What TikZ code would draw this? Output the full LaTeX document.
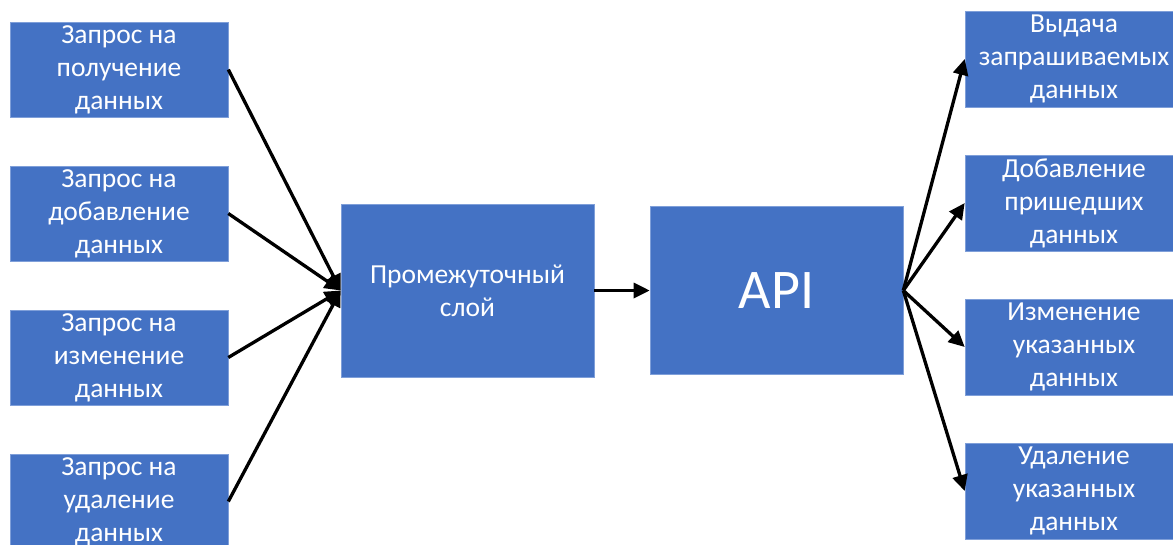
\documentclass[tikz,border=0pt]{standalone}
\usepackage{fontspec}
\setmainfont{Carlito}
\usetikzlibrary{arrows.meta}
\definecolor{boxblue}{HTML}{4472C4}
\definecolor{boxedge}{HTML}{7F9FD9}
\tikzset{
  blk/.style={rectangle, fill=boxblue, draw=boxedge, line width=0.6pt,
    text=white, align=center, inner sep=0pt,
    font=\fontsize{27.5}{33}\selectfont},
  small/.style={blk, minimum width=218pt, minimum height=95pt,
    execute at begin node={\vspace*{6pt}}},
  big/.style={blk, minimum width=253pt},
  link/.style={line width=3.3pt, -{Triangle[length=16pt,width=15pt]}}
}
\begin{document}
\begin{tikzpicture}[x=1pt,y=-1pt]
\useasboundingbox (0,0) rectangle (1173,544);
% requests
\node[small] (q1) at (119,69.5) {Запрос на\\получение\\данных};
\node[small] (q2) at (119,213.5) {Запрос на\\добавление\\данных};
\node[small] (q3) at (119,357.5) {Запрос на\\изменение\\данных};
\node[small] (q4) at (119,501.5) {Запрос на\\удаление\\данных};
% middle layer and API
\node[big, minimum height=173pt] (mid) at (467.5,290.5) {Промежуточный\\слой};
\node[big, minimum height=168pt, font=\fontsize{56}{66}\selectfont] (api) at (776.5,290.5) {API};
% results
\node[small, minimum height=96pt] (r1) at (1074,59) {Выдача\\запрашиваемых\\данных};
\node[small, minimum height=96pt] (r2) at (1074,203) {Добавление\\пришедших\\данных};
\node[small, minimum height=96pt] (r3) at (1074,347) {Изменение\\указанных\\данных};
\node[small, minimum height=96pt] (r4) at (1074,491) {Удаление\\указанных\\данных};
% connectors
\foreach \n in {q1,q2,q3,q4} \draw[link] (\n.east) -- (mid.west);
\draw[link] (mid.east) -- (api.west);
\foreach \n in {r1,r2,r3,r4} \draw[link] (api.east) -- (\n.west);
\end{tikzpicture}
\end{document}
